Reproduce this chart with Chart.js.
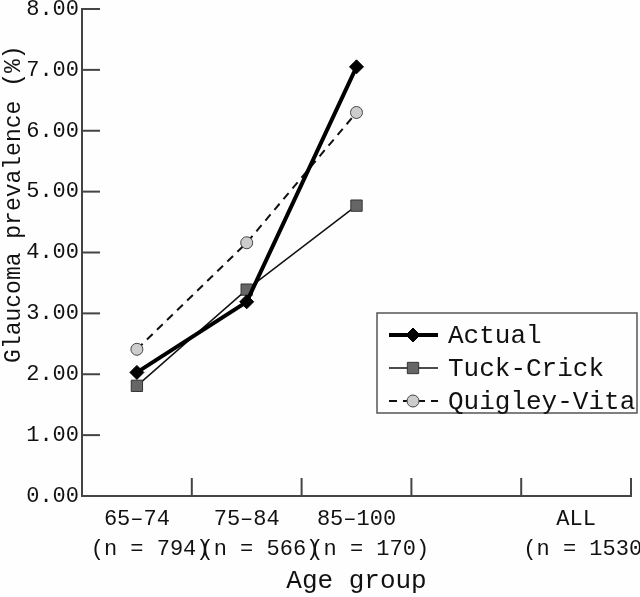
<!DOCTYPE html>
<html>
<head>
<meta charset="utf-8">
<script src="https://cdn.jsdelivr.net/npm/chart.js@4.4.1/dist/chart.umd.min.js"></script>
<style>
  html, body { margin: 0; padding: 0; background: #fefefe; }
  canvas { display: block; }
</style>
</head>
<body>
<canvas id="c" width="640" height="597"></canvas>
<script>
// ---- data ----
const ageGroups = ["65–74", "75–84", "85–100", "", "ALL"];
const sampleSizes = ["(n = 794)", "(n = 566)", "(n = 170)", "", "(n = 1530)"];
const actual = [2.03, 3.19, 7.05, null, null];
const tuckCrick = [1.81, 3.39, 4.77, null, null];
const quigleyVita = [2.41, 4.16, 6.30, null, null];
const yTicks = [0, 1, 2, 3, 4, 5, 6, 7, 8];
const seriesNames = ["Actual", "Tuck-Crick", "Quigley-Vita"];

const FONT = "'Liberation Mono', 'Courier New', monospace";
const labels = ageGroups.map((g, i) => [g, sampleSizes[i] ? "  " + sampleSizes[i] : ""]);

function drawMarker(ctx, style, r, cx, cy) {
  ctx.beginPath();
  if (style === 'rectRot') {
    ctx.moveTo(cx, cy - r); ctx.lineTo(cx + r, cy); ctx.lineTo(cx, cy + r); ctx.lineTo(cx - r, cy); ctx.closePath();
  } else if (style === 'rect') {
    const s = r * Math.SQRT1_2;
    ctx.rect(cx - s, cy - s, 2 * s, 2 * s);
  } else {
    ctx.arc(cx, cy, r, 0, Math.PI * 2);
  }
  ctx.fill();
  if (ctx.lineWidth > 0) ctx.stroke();
}

const tickMarks = {
  id: 'tickMarks',
  beforeDatasetsDraw(chart) {
    const { ctx, chartArea, scales } = chart;
    ctx.save();
    ctx.strokeStyle = '#444';
    ctx.lineWidth = 2;
    yTicks.forEach(v => {
      const py = scales.y.getPixelForValue(v);
      ctx.beginPath(); ctx.moveTo(chartArea.left, py); ctx.lineTo(chartArea.left + 18, py); ctx.stroke();
    });
    for (let i = 0; i < ageGroups.length; i++) {
      const px = scales.x.getPixelForValue(i + 0.5);
      ctx.beginPath(); ctx.moveTo(px, chartArea.bottom); ctx.lineTo(px, chartArea.bottom - 18); ctx.stroke();
    }
    ctx.restore();
  }
};

const legendBox = {
  id: 'legendBox',
  afterDatasetsDraw(chart) {
    const ctx = chart.ctx;
    const x0 = 377, y0 = 313, w = 260, h = 100;
    ctx.save();
    ctx.fillStyle = '#fefefe';
    ctx.fillRect(x0, y0, w, h);
    ctx.strokeStyle = '#555';
    ctx.lineWidth = 1.5;
    ctx.strokeRect(x0, y0, w, h);
    chart.data.datasets.forEach((ds, i) => {
      const cy = y0 + 22 + i * 33;
      ctx.beginPath();
      ctx.setLineDash(ds.borderDash || []);
      ctx.lineWidth = ds.borderWidth;
      ctx.strokeStyle = ds.borderColor;
      ctx.moveTo(389, cy); ctx.lineTo(438, cy);
      ctx.stroke();
      ctx.setLineDash([]);
      ctx.fillStyle = ds.pointBackgroundColor;
      ctx.strokeStyle = ds.pointBorderColor;
      ctx.lineWidth = ds.pointBorderWidth;
      drawMarker(ctx, ds.pointStyle, ds.pointRadius, 413, cy);
      ctx.fillStyle = '#111';
      ctx.font = "26px " + FONT;
      ctx.textBaseline = 'middle';
      ctx.textAlign = 'left';
      ctx.fillText(ds.label, 448, cy + 1);
    });
    ctx.restore();
  }
};

new Chart(document.getElementById('c'), {
  type: 'line',
  data: {
    labels: labels,
    datasets: [
      {
        label: seriesNames[0], data: actual,
        borderColor: '#000', borderWidth: 4,
        pointStyle: 'rectRot', pointRadius: 7,
        pointBackgroundColor: '#000', pointBorderColor: '#000', pointBorderWidth: 1
      },
      {
        label: seriesNames[1], data: tuckCrick,
        borderColor: '#111', borderWidth: 1.5,
        pointStyle: 'rect', pointRadius: 8,
        pointBackgroundColor: '#666', pointBorderColor: '#333', pointBorderWidth: 1
      },
      {
        label: seriesNames[2], data: quigleyVita,
        borderColor: '#111', borderWidth: 2, borderDash: [8, 6],
        pointStyle: 'circle', pointRadius: 6,
        pointBackgroundColor: '#ccc', pointBorderColor: '#444', pointBorderWidth: 1
      }
    ]
  },
  options: {
    responsive: false,
    animation: false,
    layout: { padding: { top: 6, right: 5, left: 0, bottom: 0 } },
    plugins: { legend: { display: false }, tooltip: { enabled: false } },
    scales: {
      x: {
        offset: true,
        grid: { display: false, drawTicks: false },
        border: { display: true, color: '#444', width: 2 },
        ticks: {
          autoSkip: false, maxRotation: 0, minRotation: 0, padding: 9,
          color: '#111', font: { family: FONT, size: 22, lineHeight: 1.33 }
        },
        title: {
          display: true, text: 'Age group', color: '#111',
          font: { family: FONT, size: 26, lineHeight: 1.2 },
          padding: { top: 0, bottom: 0 }
        },
        afterFit(s) { s.height = 101; s.paddingLeft = 0; s.paddingRight = 0; }
      },
      y: {
        min: 0, max: 8,
        grid: { display: false, drawTicks: false },
        border: { display: true, color: '#444', width: 2 },
        afterBuildTicks(s) { s.ticks = yTicks.map(v => ({ value: v })); },
        ticks: {
          padding: 3, color: '#111',
          font: { family: FONT, size: 22 },
          callback: v => Number(v).toFixed(2)
        },
        title: {
          display: true, text: '       Glaucoma prevalence (%)', color: '#111',
          font: { family: FONT, size: 23, lineHeight: 1.2 },
          padding: { top: 0, bottom: 0 }
        },
        afterFit(s) { s.width = 82; s.paddingTop = 0; s.paddingBottom = 0; }
      }
    }
  },
  plugins: [tickMarks, legendBox]
});
</script>
</body>
</html>
